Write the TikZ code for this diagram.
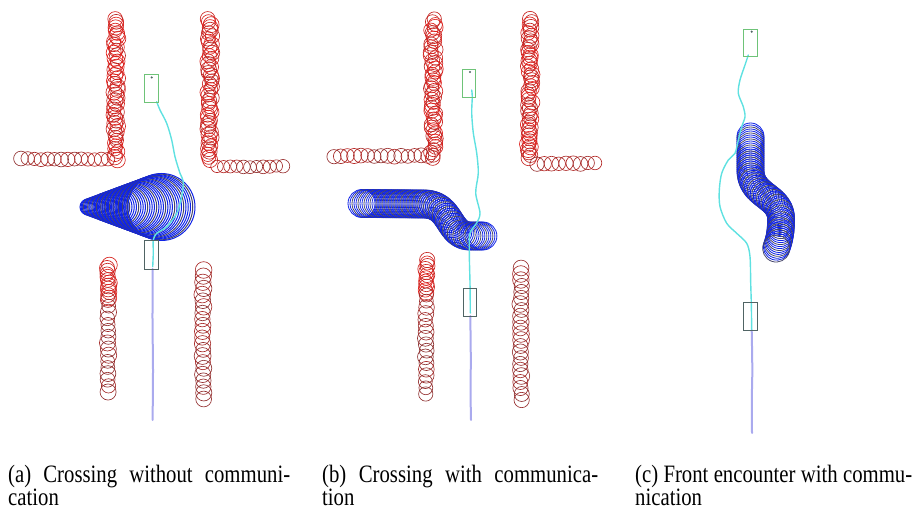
\documentclass[tikz,border=0pt]{standalone}
\usepackage{fontspec}
\newfontfamily\capfont[FakeStretch=0.83]{Liberation Serif}
\usetikzlibrary{decorations.markings}
\definecolor{wallred}{RGB}{232,30,25}
\definecolor{wallbrown}{RGB}{140,50,50}
\definecolor{trailblue}{RGB}{15,35,230}
\definecolor{trailgray}{RGB}{70,70,105}
\definecolor{pathcyan}{RGB}{95,225,225}
\definecolor{pathlav}{RGB}{170,170,238}
\definecolor{goalgreen}{RGB}{110,195,120}
\definecolor{robgray}{RGB}{80,100,100}
\tikzset{
  wallc/.style={line width=0.65pt},
  trailc/.style={line width=0.8pt},
  goalbox/.style={draw=goalgreen, line width=0.8pt},
  robbox/.style={draw=robgray, line width=0.8pt},
  cyanpath/.style={draw=pathcyan, line width=1.4pt, line cap=round, line join=round},
  lavpath/.style={draw=pathlav, line width=2pt, line cap=round},
  capt/.style={anchor=base west, inner sep=0pt, font=\capfont\fontsize{25}{23}\selectfont},
  startdot/.style={fill=robgray, draw=none},
  trailmarks/.style={decorate, decoration={markings,
    mark=between positions 0 and 1 step 2pt with {%
      \pgfmathtruncatemacro{\sq}{mod(\pgfkeysvalueof{/pgf/decoration/mark info/sequence number},3)}%
      \ifnum\sq=0 \def\cc{trailgray}\else\def\cc{trailblue}\fi
      \draw[trailc, draw=\cc] (0pt,0pt) circle (#1pt);}}}
}
% vertical wall: cx, y0, y1, n, r, redlo, redhi, jitter
\newcommand{\wallv}[8]{%
  \foreach \k in {0,...,#4}{%
    \pgfmathsetmacro{\yy}{#2+(#3-#2)*\k/#4}%
    \pgfmathsetmacro{\xx}{#1+#8*rand}%
    \pgfmathsetmacro{\rr}{#5+0.6*rand}%
    \pgfmathtruncatemacro{\mx}{#6+(#7-#6)*rnd}%
    \draw[wallc, draw=wallred!\mx!wallbrown] (\xx,\yy) circle (\rr pt);
  }}
% horizontal wall: cy, x0, x1, n, r, redlo, redhi
\newcommand{\wallh}[7]{%
  \foreach \k in {0,...,#4}{%
    \pgfmathsetmacro{\xx}{#2+(#3-#2)*\k/#4}%
    \pgfmathsetmacro{\yy}{#1+0.7*rand}%
    \pgfmathsetmacro{\rr}{#5+0.4*rand}%
    \pgfmathtruncatemacro{\mx}{#6+(#7-#6)*rnd}%
    \draw[wallc, draw=wallred!\mx!wallbrown] (\xx,\yy) circle (\rr pt);
  }}
\begin{document}
\pgfmathsetseed{12345}
\begin{tikzpicture}[x=1pt,y=-1pt]
\useasboundingbox (0,0) rectangle (920,510);

% ---------------- panel (a) ----------------
\wallv{116}{19}{160}{50}{7.5}{50}{100}{2.5}
\wallh{159}{21}{108}{13}{7}{0}{50}
\wallv{210}{19}{160}{50}{7.5}{50}{100}{2.5}
\wallh{166.5}{217}{283}{10}{6.5}{0}{50}
\wallv{108}{265}{298}{11}{7.5}{60}{100}{1.5}
\wallv{108}{300}{392}{15}{7.5}{0}{30}{0.8}
\wallv{203}{270}{399}{21}{8}{0}{35}{0.8}
% blue cone
\foreach \k in {0,...,44}{%
  \pgfmathsetmacro{\s}{\k/44}%
  \pgfmathsetmacro{\cx}{88+73.5*\s}%
  \pgfmathsetmacro{\rc}{8+25.5*\s}%
  \pgfmathtruncatemacro{\md}{mod(\k,4)}%
  \ifnum\md=3 \def\cc{trailgray}\else\def\cc{trailblue}\fi
  \draw[line width=1pt, draw=\cc] (\cx,207) circle (\rc pt);
}
\draw[lavpath] plot[smooth] coordinates {(152.7,269) (152.5,320) (153,370) (152.6,420)};
\draw[cyanpath] plot[smooth] coordinates {(156.7,101.7) (160,110) (166.7,123.3) (171.7,140) (175,156.7) (180,173.3) (183.3,181.7) (181.7,196.7) (176.7,213.3) (166.7,226.7) (156.7,233.3) (153.3,240) (153.3,253.3) (152.7,266.7)};
\draw[goalbox] (144,74.3) rectangle (158.3,102.3);
\fill[startdot] (151.7,77.5) circle (1.2pt);
\draw[robbox] (144.3,240.7) rectangle (158.3,269.3);

% ---------------- panel (b) ----------------
\wallv{433}{19}{158}{50}{7.5}{50}{100}{2.5}
\wallh{156}{334}{428}{14}{7.2}{0}{50}
\wallv{530}{19}{158}{50}{7.5}{50}{100}{2.5}
\wallh{163.5}{537}{595}{8}{7}{0}{50}
\wallv{426}{260}{293}{11}{7.5}{60}{100}{1.5}
\wallv{426}{295}{394}{16}{7.5}{0}{30}{0.8}
\wallv{521}{268}{400}{22}{8}{0}{35}{0.8}
\path[trailmarks=14] (362,203.5) -- (425,204) .. controls (452,205) and (448,236) .. (470,236) -- (484,236);
\draw[lavpath] plot[smooth] coordinates {(470.3,316) (470.8,360) (470.5,390) (471,420)};
\draw[cyanpath] plot[smooth] coordinates {(471.7,90) (472.3,96.7) (471.7,113) (473.3,133) (476.7,153) (478.3,173) (475.7,193) (480,213) (476.7,223) (470,233) (469.3,253) (470,283) (470.3,313)};
\draw[goalbox] (462.3,69) rectangle (475.7,97.3);
\fill[startdot] (470,72) circle (1.2pt);
\draw[robbox] (463.3,288.3) rectangle (476.7,316.7);

% ---------------- panel (c) ----------------
\path[trailmarks=13.5] (750.5,136.5) -- (750.5,172) .. controls (752,197) and (782,196) .. (781,220) .. controls (781,236) and (778,243) .. (776,249);
\draw[lavpath] plot[smooth] coordinates {(751.7,330) (752.3,370) (751.8,400) (752,433)};
\draw[cyanpath] plot[smooth] coordinates {(748.3,55) (745,65) (740,80) (738.3,93.3) (743.3,106.7) (745,116.7) (741.7,126.7) (738.3,140) (735,153.3) (728.3,160) (721.7,173.3) (719.3,190) (720,206.7) (726.7,223.3) (736.7,233.3) (746.7,243.3) (750,256.7) (750.7,283.3) (751.3,303.3) (751.7,330)};
\draw[goalbox] (743.3,29.3) rectangle (757.7,56.7);
\fill[startdot] (751.7,31.7) circle (1.2pt);
\draw[robbox] (743.3,302.3) rectangle (757.7,330.7);

% ---------------- captions ----------------
\node[capt] (capa1) at (8,482) {\makebox[282pt][s]{(a) Crossing without communi-}};
\node[capt] (capa2) at (8,505) {cation};
\node[capt] (capb1) at (322,482) {\makebox[276pt][s]{(b) Crossing with communica-}};
\node[capt] (capb2) at (322,505) {tion};
\node[capt] (capc1) at (635,482) {\makebox[277pt][s]{(c) Front encounter with commu-}};
\node[capt] (capc2) at (635,505) {nication};
\end{tikzpicture}
\end{document}
